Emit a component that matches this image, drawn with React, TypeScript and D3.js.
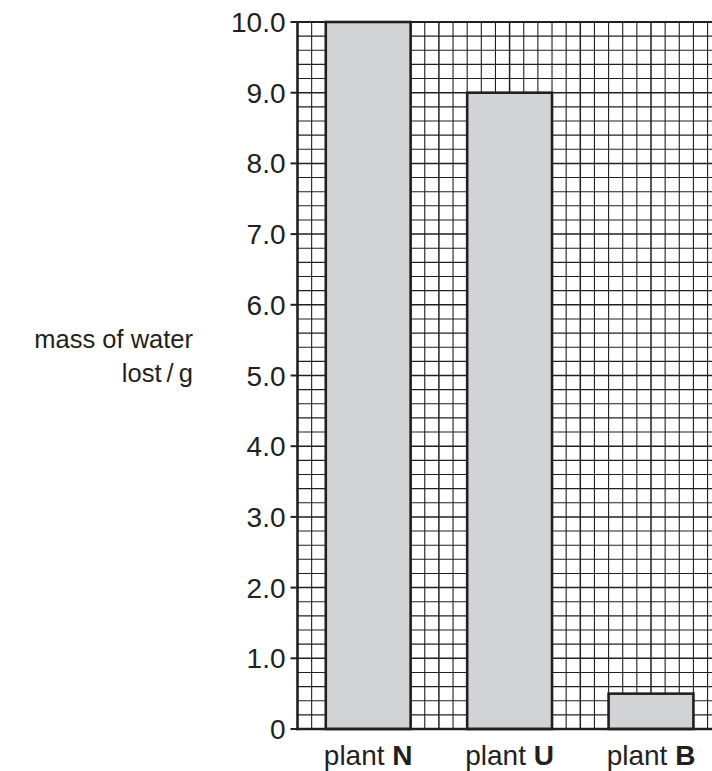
import React from "react";
import * as d3 from "d3";

const categories = ["N", "U", "B"];
const values = [10.0, 9.0, 0.5];
const yTicks = [0, 1, 2, 3, 4, 5, 6, 7, 8, 9, 10];
const yTickLabels = ["0", "1.0", "2.0", "3.0", "4.0", "5.0", "6.0", "7.0", "8.0", "9.0", "10.0"];
const yLabelLines = ["mass of water", "lost\u2009/\u2009g"];

const W = 712;
const H = 771;
const X0 = 297.5;
const Y0 = 729;
const Y1 = 22;
const CELL = (Y0 - Y1) / 50;
const NCOLS = 30;
const INK = "#231f20";
const FONT = "'Liberation Sans', Arial, Helvetica, sans-serif";

export default function App() {
  const y = d3.scaleLinear().domain([0, 10]).range([Y0, Y1]);
  const xEnd = X0 + NCOLS * CELL;
  const xCells = d3.scaleLinear().domain([0, NCOLS]).range([X0, xEnd]);
  const x = d3
    .scaleBand<string>()
    .domain(categories)
    .range([X0, xEnd])
    .paddingInner(0.4)
    .paddingOuter(0.2);

  const hLines = d3.range(0, 51).map((i) => i * 0.2);
  const vLines = d3.range(1, NCOLS + 1);

  return (
    <svg
      width={W}
      height={H}
      style={{ position: "absolute", left: 0, top: 0, background: "#fff" }}
      fontFamily={FONT}
    >
      <g>
        {hLines.map((v, i) => (
          <line
            key={"h" + i}
            x1={X0}
            x2={xEnd}
            y1={y(v)}
            y2={y(v)}
            stroke={INK}
            strokeWidth={i % 5 === 0 ? 1.5 : 1.1}
          />
        ))}
        {vLines.map((c) => (
          <line
            key={"v" + c}
            x1={xCells(c)}
            x2={xCells(c)}
            y1={Y1}
            y2={Y0}
            stroke={INK}
            strokeWidth={c % 5 === 0 ? 1.5 : 1.1}
          />
        ))}
      </g>
      <line x1={X0} x2={xEnd} y1={Y1} y2={Y1} stroke={INK} strokeWidth={2.2} />
      {categories.map((c, i) => (
        <rect
          key={c}
          x={x(c)}
          y={y(values[i])}
          width={x.bandwidth()}
          height={Y0 - y(values[i])}
          fill="#d1d3d4"
          stroke={INK}
          strokeWidth={2.6}
        />
      ))}
      <line x1={X0} x2={X0} y1={Y1 - 1} y2={Y0 + 1.3} stroke={INK} strokeWidth={2.6} />
      <line x1={X0 - 1.3} x2={xEnd} y1={Y0} y2={Y0} stroke={INK} strokeWidth={2.6} />
      {yTicks.map((t, i) => (
        <g key={"t" + t}>
          <line x1={X0 - 7} x2={X0} y1={y(t)} y2={y(t)} stroke={INK} strokeWidth={2} />
          <text
            x={X0 - 12}
            y={y(t)}
            dy="0.36em"
            textAnchor="end"
            fontSize={28}
            fill={INK}
          >
            {yTickLabels[i]}
          </text>
        </g>
      ))}
      {categories.map((c) => (
        <text
          key={"l" + c}
          x={(x(c) as number) + x.bandwidth() / 2}
          y={765}
          textAnchor="middle"
          fontSize={28}
          fill={INK}
        >
          plant <tspan fontWeight="bold">{c}</tspan>
        </text>
      ))}
      {yLabelLines.map((s, i) => (
        <text key={"yl" + i} x={193} y={348 + i * 34} textAnchor="end" fontSize={25.5} fill={INK}>
          {s}
        </text>
      ))}
    </svg>
  );
}
